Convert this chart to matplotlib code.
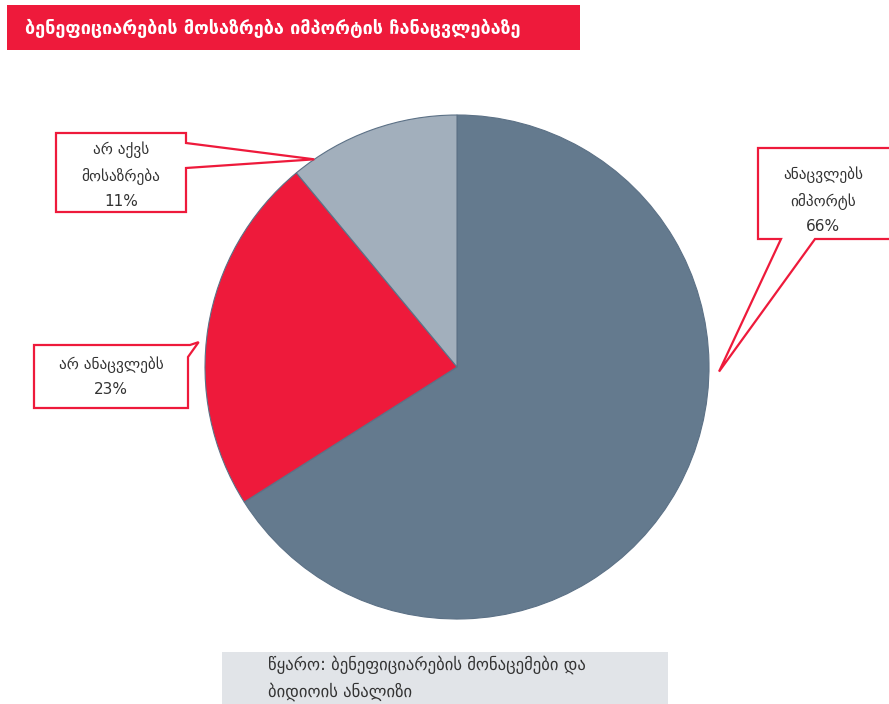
import numpy as np
import matplotlib
matplotlib.use("Agg")
import matplotlib.pyplot as plt
from matplotlib.patches import Polygon, Rectangle

plt.rcParams['font.family'] = ['DejaVu Sans']

# data
labels = ['ანაცვლებს\nიმპორტს', 'არ ანაცვლებს', 'არ აქვს\nმოსაზრება']
shares = [66, 23, 11]
colors = ['#647a8e', '#ee1a3b', '#a2afbc']
title = 'ბენეფიციარების მოსაზრება იმპორტის ჩანაცვლებაზე'
source = 'წყარო: ბენეფიციარების მონაცემები და\nბიდიოის ანალიზი'

W, H = 889, 704
red = '#ee1a3b'
txt_col = '#333333'

fig = plt.figure(figsize=(W / 100, H / 100), dpi=100)

# pie placed in pixel layout
cx, cy, R = 457, 367, 252
ax = fig.add_axes([(cx - R) / W, (H - cy - R) / H, 2 * R / W, 2 * R / H])
wedges, _ = ax.pie(shares, colors=colors, startangle=90, counterclock=False,
                   radius=1, wedgeprops=dict(edgecolor='#5c7186', linewidth=0.8))
ax.set_xlim(-1, 1)
ax.set_ylim(-1, 1)
ax.set_aspect('equal')
ax.axis('off')

# overlay in pixel coords (y down)
ov = fig.add_axes([0, 0, 1, 1], zorder=5)
ov.set_xlim(0, W)
ov.set_ylim(H, 0)
ov.axis('off')
ov.patch.set_alpha(0)

# title banner
ov.add_patch(Rectangle((7, 5), 573, 45, facecolor=red, edgecolor='none'))
ov.text(25, 28, title, color='white', fontsize=13, fontweight='bold',
        va='center', ha='left')

# source box
ov.add_patch(Rectangle((222, 652), 446, 60, facecolor='#e1e4e8', edgecolor='none'))
ov.text(268, 678, source, color='#333333', fontsize=12, va='center', ha='left',
        linespacing=1.6)


def tip_point(angle, r):
    a = np.deg2rad(angle)
    return (cx + r * R * np.cos(a), cy - r * R * np.sin(a))


# callout tips near the pie rim
t0 = tip_point(-1, 1.04)
t1 = tip_point(174.5, 1.03)
t2 = tip_point(124.5, 1.0)

shapes = [
    [(758, 148), (895, 148), (895, 239), (815, 239), t0, (781, 239), (758, 239)],
    [(34, 345), (190, 345), t1, (188, 357), (188, 408), (34, 408)],
    [(56, 133), (186, 133), (186, 143), t2, (186, 168), (186, 212), (56, 212)],
]
text_pos = [(823, 200), (111, 377), (121, 175)]

for i in range(3):
    ov.add_patch(Polygon(shapes[i], closed=True, facecolor='white',
                         edgecolor=red, linewidth=1.6, joinstyle='miter'))
    ov.text(text_pos[i][0], text_pos[i][1], labels[i] + '\n' + f'{shares[i]}%',
            ha='center', va='center', fontsize=11, color=txt_col,
            linespacing=1.75)

fig.savefig('out.png', dpi=100)
